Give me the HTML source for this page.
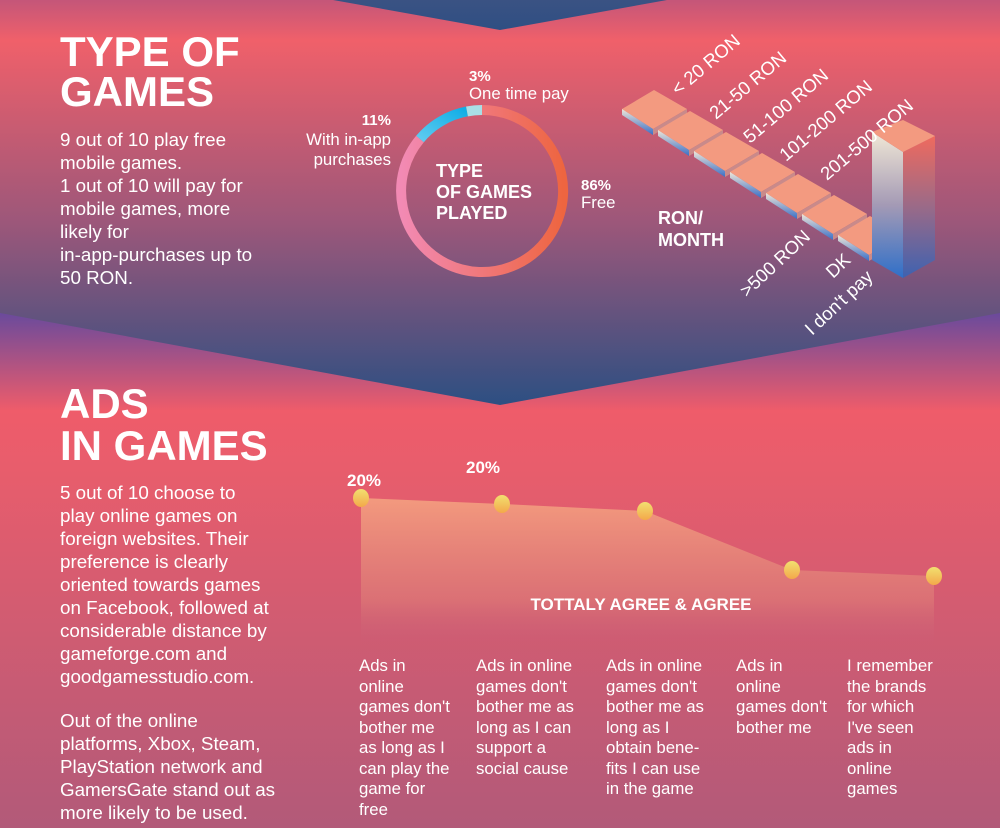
<!DOCTYPE html>
<html><head><meta charset="utf-8"><style>
html,body{margin:0;padding:0;width:1000px;height:828px;overflow:hidden;font-family:"Liberation Sans",sans-serif}
svg text{font-family:"Liberation Sans",sans-serif;fill:#fff}
</style></head><body>
<svg width="1000" height="828" viewBox="0 0 1000 828" xmlns="http://www.w3.org/2000/svg">
<defs>
<linearGradient id="bgTop" x1="0" y1="0" x2="0" y2="405" gradientUnits="userSpaceOnUse">
<stop offset="0" stop-color="#c45679"/><stop offset="0.1" stop-color="#f0606a"/>
<stop offset="0.55" stop-color="#9c577a"/><stop offset="1" stop-color="#2d4f82"/>
</linearGradient>
<linearGradient id="bgBot" x1="0" y1="313" x2="0" y2="828" gradientUnits="userSpaceOnUse">
<stop offset="0" stop-color="#6a4a9c"/><stop offset="0.19" stop-color="#ef5c6a"/>
<stop offset="0.3" stop-color="#e85d6c"/><stop offset="1" stop-color="#b25a79"/>
</linearGradient>
<linearGradient id="chev" x1="0" y1="0" x2="0" y2="1">
<stop offset="0" stop-color="#3a5283"/><stop offset="1" stop-color="#2f4f83"/>
</linearGradient>
<linearGradient id="ring" x1="0" y1="0" x2="1" y2="0">
<stop offset="0" stop-color="#f28ab4"/><stop offset="1" stop-color="#ee6540"/>
</linearGradient>
<linearGradient id="blue" x1="0" y1="1" x2="1" y2="0">
<stop offset="0" stop-color="#5dcbf0"/><stop offset="1" stop-color="#12aee6"/>
</linearGradient>
<linearGradient id="side" x1="0" y1="0" x2="0" y2="1">
<stop offset="0" stop-color="#efe6d8"/><stop offset="1" stop-color="#3a6fc6"/>
</linearGradient>
<linearGradient id="barL" x1="0" y1="0" x2="0" y2="1">
<stop offset="0" stop-color="#f1e8d6"/><stop offset="0.5" stop-color="#a49ab5"/><stop offset="1" stop-color="#2f6fc8"/>
</linearGradient>
<linearGradient id="barR" x1="0" y1="0" x2="0" y2="1">
<stop offset="0" stop-color="#ef6a5e"/><stop offset="0.5" stop-color="#9a6a88"/><stop offset="1" stop-color="#3e62b0"/>
</linearGradient>
<linearGradient id="area" x1="0" y1="0" x2="0" y2="1">
<stop offset="0" stop-color="#f39a7e"/><stop offset="0.7" stop-color="#dc7576" stop-opacity="0.8"/><stop offset="1" stop-color="#c7607a" stop-opacity="0"/>
</linearGradient>
<linearGradient id="dot" x1="0" y1="0" x2="0" y2="1">
<stop offset="0" stop-color="#f2e070"/><stop offset="1" stop-color="#f3a84a"/>
</linearGradient>
</defs>
<rect x="0" y="0" width="1000" height="828" fill="url(#bgBot)"/>
<polygon points="0,0 1000,0 1000,313 500,405 0,313" fill="url(#bgTop)"/>
<polygon points="333,0 667,0 500,30" fill="url(#chev)"/>

<text x="60" y="66" font-size="42" font-weight="bold">TYPE OF</text>
<text x="60" y="106" font-size="42" font-weight="bold">GAMES</text>
<g font-size="18.8">
<text x="60" y="146">9 out of 10 play free</text>
<text x="60" y="169">mobile games.</text>
<text x="60" y="192">1 out of 10 will pay for</text>
<text x="60" y="215">mobile games, more</text>
<text x="60" y="238">likely for</text>
<text x="60" y="261">in-app-purchases up to</text>
<text x="60" y="284">50 RON.</text>
</g>

<g transform="translate(482,191)">
<path d="M0,-81 A81,81 0 1,1 -62,-52" fill="none" stroke="url(#ring)" stroke-width="10"/>
<path d="M-62,-52 A81,81 0 0,1 -15,-79.6" fill="none" stroke="url(#blue)" stroke-width="10"/>
<path d="M-15,-79.6 A81,81 0 0,1 0,-81" fill="none" stroke="#a9dfe6" stroke-width="10"/>
</g>
<g font-size="18" font-weight="bold">
<text x="436" y="177">TYPE</text>
<text x="436" y="198">OF GAMES</text>
<text x="436" y="219">PLAYED</text>
</g>
<text x="469" y="81" font-size="15" font-weight="bold">3%</text>
<text x="469" y="99" font-size="16.8">One time pay</text>
<text x="391" y="125" font-size="15" font-weight="bold" text-anchor="end">11%</text>
<text x="391" y="145" font-size="16.8" text-anchor="end">With in-app</text>
<text x="391" y="165" font-size="16.8" text-anchor="end">purchases</text>
<text x="581" y="190" font-size="15" font-weight="bold">86%</text>
<text x="581" y="208" font-size="16.8">Free</text>

<g>
<g id="t">
<polygon points="622,109 654,90 687,109 653,129" fill="#f39a80"/>
<polygon points="622,109 653,129 653,135 622,115" fill="url(#side)"/>
<polygon points="653,129 687,109 687,115 653,135" fill="#c98a8a"/>
</g>
<use href="#t" transform="translate(36,21)"/>
<use href="#t" transform="translate(72,42)"/>
<use href="#t" transform="translate(108,63)"/>
<use href="#t" transform="translate(144,84)"/>
<use href="#t" transform="translate(180,105)"/>
<use href="#t" transform="translate(216,126)"/>
</g>
<polygon points="872,260 903,278 903,152 872,132" fill="url(#barL)"/>
<polygon points="903,278 935,260 935,136 903,152" fill="url(#barR)"/>
<polygon points="872,132 903,120 935,136 903,152" fill="#f39a80"/>
<text x="658" y="224" font-size="18" font-weight="bold">RON/</text>
<text x="658" y="246" font-size="18" font-weight="bold">MONTH</text>
<g font-size="18.5">
<text transform="translate(678,96) rotate(-40)">&lt; 20 RON</text>
<text transform="translate(716,120) rotate(-40)">21-50 RON</text>
<text transform="translate(750,144) rotate(-40)">51-100 RON</text>
<text transform="translate(786,162) rotate(-40)">101-200 RON</text>
<text transform="translate(827,181) rotate(-40)">201-500 RON</text>
<text transform="translate(747,298) rotate(-43)">&gt;500 RON</text>
<text transform="translate(833,279) rotate(-43)">DK</text>
<text transform="translate(812,336) rotate(-43)">I don't pay</text>
</g>

<text x="60" y="418" font-size="42" font-weight="bold">ADS</text>
<text x="60" y="460" font-size="42" font-weight="bold">IN GAMES</text>
<g font-size="18.8">
<text x="60" y="499">5 out of 10 choose to</text>
<text x="60" y="522">play online games on</text>
<text x="60" y="545">foreign websites. Their</text>
<text x="60" y="568">preference is clearly</text>
<text x="60" y="591">oriented towards games</text>
<text x="60" y="614">on Facebook, followed at</text>
<text x="60" y="637">considerable distance by</text>
<text x="60" y="660">gameforge.com and</text>
<text x="60" y="683">goodgamesstudio.com.</text>
<text x="60" y="727">Out of the online</text>
<text x="60" y="750">platforms, Xbox, Steam,</text>
<text x="60" y="773">PlayStation network and</text>
<text x="60" y="796">GamersGate stand out as</text>
<text x="60" y="819">more likely to be used.</text>
</g>

<polygon points="361,498 502,504 645,511 792,570 934,576 934,645 361,645" fill="url(#area)"/>
<g fill="url(#dot)">
<ellipse cx="361" cy="498" rx="8" ry="9"/>
<ellipse cx="502" cy="504" rx="8" ry="9"/>
<ellipse cx="645" cy="511" rx="8" ry="9"/>
<ellipse cx="792" cy="570" rx="8" ry="9"/>
<ellipse cx="934" cy="576" rx="8" ry="9"/>
</g>
<text x="347" y="486" font-size="17" font-weight="bold">20%</text>
<text x="466" y="473" font-size="17" font-weight="bold">20%</text>
<text x="641" y="610" font-size="17" font-weight="bold" text-anchor="middle">TOTTALY AGREE &amp; AGREE</text>

<g font-size="16.8">
<text x="359" y="671">Ads in</text>
<text x="359" y="692">online</text>
<text x="359" y="712">games don't</text>
<text x="359" y="733">bother me</text>
<text x="359" y="753">as long as I</text>
<text x="359" y="774">can play the</text>
<text x="359" y="794">game for</text>
<text x="359" y="815">free</text>

<text x="476" y="671">Ads in online</text>
<text x="476" y="692">games don't</text>
<text x="476" y="712">bother me as</text>
<text x="476" y="733">long as I can</text>
<text x="476" y="753">support a</text>
<text x="476" y="774">social cause</text>

<text x="606" y="671">Ads in online</text>
<text x="606" y="692">games don't</text>
<text x="606" y="712">bother me as</text>
<text x="606" y="733">long as I</text>
<text x="606" y="753">obtain bene-</text>
<text x="606" y="774">fits I can use</text>
<text x="606" y="794">in the game</text>

<text x="736" y="671">Ads in</text>
<text x="736" y="692">online</text>
<text x="736" y="712">games don't</text>
<text x="736" y="733">bother me</text>

<text x="847" y="671">I remember</text>
<text x="847" y="692">the brands</text>
<text x="847" y="712">for which</text>
<text x="847" y="733">I've seen</text>
<text x="847" y="753">ads in</text>
<text x="847" y="774">online</text>
<text x="847" y="794">games</text>
</g>
</svg>
</body></html>
